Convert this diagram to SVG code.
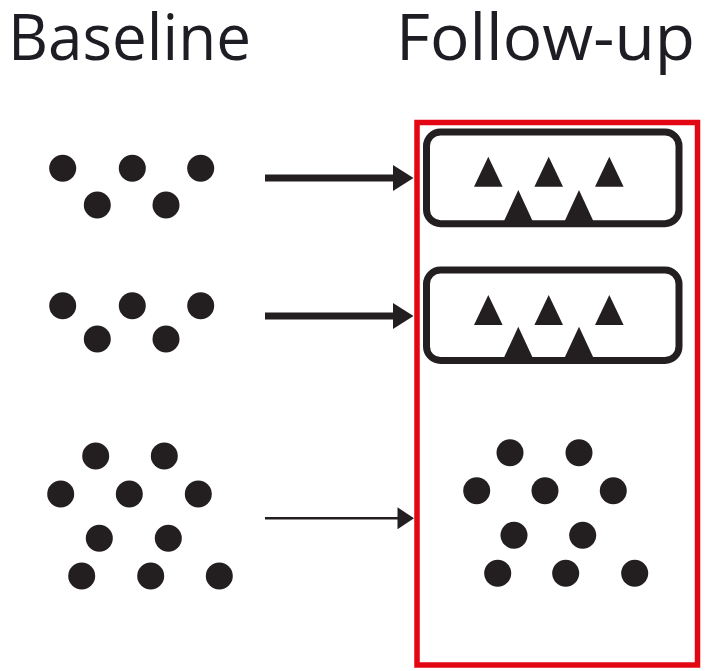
<svg xmlns="http://www.w3.org/2000/svg" width="708" height="671" viewBox="0 0 708 671">
<style>
.t{font-family:"Open Sans","Noto Sans","DejaVu Sans",sans-serif;font-size:64px;fill:#1f1d24}
.d{fill:#231f20}
.box{fill:none;stroke:#231f20;stroke-width:7}
.red{fill:none;stroke:#e30613;stroke-width:5.5}
.ln{stroke:#231f20;fill:none}
</style>
<defs>
<symbol id="tri" overflow="visible"><polygon points="0,0 14.5,-30 29,0" fill="#231f20" transform="translate(-14.5,0)"/></symbol>
</defs>
<rect width="708" height="671" fill="#fff"/>
<text class="t" x="8" y="60" textLength="243" lengthAdjust="spacingAndGlyphs">Baseline</text>
<text class="t" x="396" y="60" textLength="299" lengthAdjust="spacingAndGlyphs">Follow-up</text>

<g id="followup-frame"><rect class="red" x="417" y="122.5" width="280.5" height="542.5"/></g>

<g id="baseline-1" class="d">
<circle cx="62.7" cy="168.3" r="13.5"/><circle cx="132.3" cy="168.3" r="13.5"/><circle cx="200.7" cy="168.3" r="13.5"/>
<circle cx="97.3" cy="205" r="13.5"/><circle cx="166" cy="205" r="13.5"/>
</g>
<g id="baseline-2" class="d">
<circle cx="62.7" cy="305.7" r="13.5"/><circle cx="132.3" cy="305.7" r="13.5"/><circle cx="200.7" cy="305.7" r="13.5"/>
<circle cx="97.3" cy="339" r="13.5"/><circle cx="166" cy="339" r="13.5"/>
</g>
<g id="baseline-3" class="d">
<circle cx="95.7" cy="456" r="13.5"/><circle cx="164.3" cy="456" r="13.5"/>
<circle cx="60.7" cy="494" r="13.5"/><circle cx="129.3" cy="494" r="13.5"/><circle cx="198.3" cy="494" r="13.5"/>
<circle cx="99.3" cy="538.3" r="13.5"/><circle cx="168.3" cy="538.3" r="13.5"/>
<circle cx="81.7" cy="576" r="13.5"/><circle cx="150.7" cy="576" r="13.5"/><circle cx="219.3" cy="576" r="13.5"/>
</g>

<g id="followup-1">
<rect class="box" x="426.5" y="132" width="252.5" height="91.7" rx="14"/>
<polygon class="d" points="474,186.7 488.3,156.7 502.6,186.7"/>
<polygon class="d" points="534.4,186.7 548.7,156.7 563,186.7"/>
<polygon class="d" points="595,186.7 609.3,156.7 623.6,186.7"/>
<polygon class="d" points="504,221 518.3,190 532.6,221"/>
<polygon class="d" points="564.7,221 579,190 593.3,221"/>
</g>
<g id="followup-2">
<rect class="box" x="426.5" y="270" width="252.5" height="90.5" rx="14"/>
<polygon class="d" points="474,325 488.3,295 502.6,325"/>
<polygon class="d" points="534.4,325 548.7,295 563,325"/>
<polygon class="d" points="595,325 609.3,295 623.6,325"/>
<polygon class="d" points="504,357.5 518.3,326.7 532.6,357.5"/>
<polygon class="d" points="564.7,357.5 579,326.7 593.3,357.5"/>
</g>
<g id="followup-3" class="d">
<circle cx="510" cy="452.7" r="13.5"/><circle cx="579" cy="452.7" r="13.5"/>
<circle cx="476.7" cy="490.7" r="13.5"/><circle cx="545" cy="490.7" r="13.5"/><circle cx="613.3" cy="490.7" r="13.5"/>
<circle cx="514" cy="535.3" r="13.5"/><circle cx="582.7" cy="535.3" r="13.5"/>
<circle cx="497.7" cy="573.3" r="13.5"/><circle cx="565.7" cy="573.3" r="13.5"/><circle cx="634.7" cy="573.3" r="13.5"/>
</g>

<g id="connectors">
<line class="ln" x1="265" y1="178" x2="396" y2="178" stroke-width="7"/>
<polygon class="d" points="393,165 413.5,178 393,191"/>
<line class="ln" x1="265" y1="316" x2="396" y2="316" stroke-width="7"/>
<polygon class="d" points="393,303 413.5,316 393,329"/>
<line class="ln" x1="265" y1="518.3" x2="400" y2="518.3" stroke-width="2.5"/>
<polygon class="d" points="397.5,507.3 414,518.3 397.5,529.3"/>
</g>
</svg>
